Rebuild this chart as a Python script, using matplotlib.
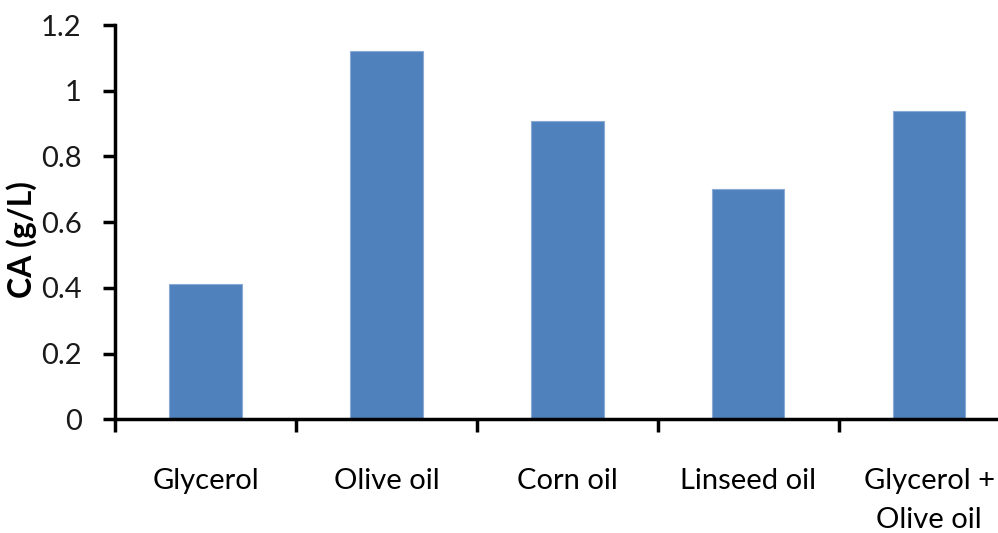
import matplotlib.pyplot as plt
import numpy as np

carbon_sources = ["Glycerol", "Olive oil", "Corn oil", "Linseed oil", "Glycerol +\nOlive oil"]
ca_g_per_l = [0.412, 1.12, 0.908, 0.70, 0.938]
y_ticks = [0, 0.2, 0.4, 0.6, 0.8, 1, 1.2]
y_tick_labels = ["0", "0.2", "0.4", "0.6", "0.8", "1", "1.2"]

plt.rcParams['font.family'] = ['Lato', 'DejaVu Sans']

fig = plt.figure(figsize=(9.98, 5.33), dpi=100)
ax = fig.add_axes([115 / 998, 1 - 419.3 / 533, 883 / 998, 394.3 / 533])

x = np.arange(len(carbon_sources))
ax.bar(x, ca_g_per_l, width=0.4, color="#4F81BD", edgecolor="#8AAAD6", linewidth=0.8)

ax.set_xlim(-0.5, 4.38)
ax.set_ylim(0, 1.2)

# category boundaries get the tick marks, names sit between them
ax.set_xticks(np.arange(-0.5, 4.0, 1.0))
ax.set_xticklabels([])
ax.set_xticks(x, minor=True)
ax.set_xticklabels(carbon_sources, minor=True, fontsize=21, linespacing=1.6)
ax.tick_params(axis="x", which="major", direction="out", length=9, width=2.5)
ax.tick_params(axis="x", which="minor", length=0, pad=35)

ax.set_yticks(y_ticks)
ax.set_yticklabels(y_tick_labels, fontsize=21, color="#1a1a1a")
ax.tick_params(axis="y", direction="out", length=9, width=2.5, pad=15)

for side in ["top", "right"]:
    ax.spines[side].set_visible(False)
for side in ["left", "bottom"]:
    ax.spines[side].set_linewidth(2.5)

fig.text(22 / 998, 1 - 240 / 533, "CA (g/L)", rotation=90, fontsize=23,
         fontweight="bold", ha="center", va="center")

fig.savefig("out.png", dpi=100)
